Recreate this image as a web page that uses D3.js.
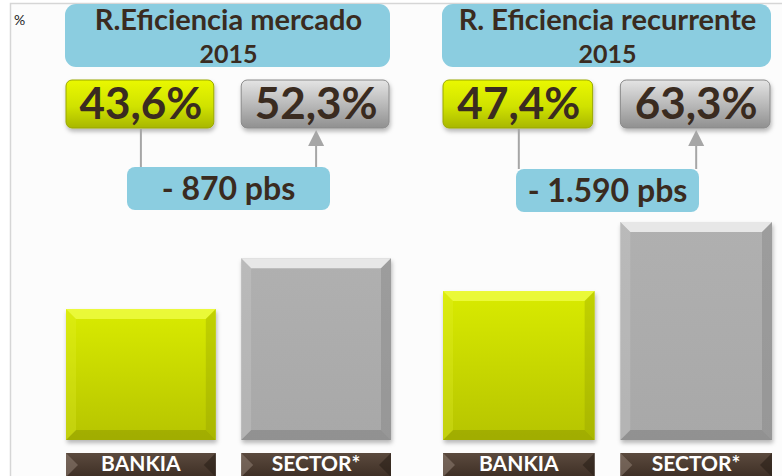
<!DOCTYPE html>
<html>
<head>
<meta charset="utf-8">
<script src="https://cdn.jsdelivr.net/npm/d3@7"></script>
<style>
  body { margin: 0; background: #ffffff; }
  svg { display: block; }
  text { font-family: Lato, "Open Sans", sans-serif; font-weight: bold; }
</style>
</head>
<body>
<div class="chart"></div>
<script>
// ------------------------------------------------------------------
// Data
var panelTitles = ["R.Eficiencia mercado", "R. Eficiencia recurrente"];
var panelYears  = ["2015", "2015"];
var categories  = ["BANKIA", "SECTOR*"];
var bankiaValues = [43.6, 47.4];
var sectorValues = [52.3, 63.3];
var valueLabels  = [["43,6%", "52,3%"], ["47,4%", "63,3%"]];
var diffLabels   = ["- 870 pbs", "- 1.590 pbs"];
var axisMin = [21.2, 13.1];   // each panel has its own (non zero) axis
var axisMax = [58.5, 63.3];

// ------------------------------------------------------------------
// Layout
var width = 782, height = 476;
var baseY = 440, topY = 222;
var panelRange = [[66, 391], [443, 772]];
var diffBoxW = [203, 183];
var diffBoxY = [167, 169];
var ink = "#3a2b20";

var svg = d3.select(".chart").append("svg")
  .attr("width", width)
  .attr("height", height);

var defs = svg.append("defs");

function vgrad(id, stops) {
  var g = defs.append("linearGradient").attr("id", id)
    .attr("x1", 0).attr("y1", 0).attr("x2", 0).attr("y2", 1);
  stops.forEach(function(s) {
    g.append("stop").attr("offset", s[0]).attr("stop-color", s[1]);
  });
}
vgrad("gYellow", [[0, "#d9eb00"], [1, "#b6c400"]]);
vgrad("gGray", [[0, "#b0b0b0"], [1, "#a8a8a8"]]);
vgrad("gYellowBox", [[0, "#eaf800"], [0.55, "#d0e200"], [1, "#a8b700"]]);
vgrad("gGrayBox", [[0, "#e4e4e4"], [0.55, "#b6b6b6"], [1, "#909090"]]);
vgrad("gBrown", [[0, "#5b4a3e"], [1, "#3e2f25"]]);

var shadow = defs.append("filter").attr("id", "shadow")
  .attr("x", "-10%").attr("y", "-10%").attr("width", "130%").attr("height", "140%");
shadow.append("feDropShadow").attr("dx", 1).attr("dy", 3)
  .attr("stdDeviation", 2).attr("flood-color", "#000").attr("flood-opacity", 0.28);

// ------------------------------------------------------------------
// Frame
svg.append("rect").attr("x", 10).attr("y", 4).attr("width", width - 10).attr("height", height - 4)
  .attr("fill", "#fcfcfc");
svg.append("path").attr("d", "M10.5," + height + "V3.5H" + width)
  .attr("fill", "none").attr("stroke", "#d6d6d6").attr("stroke-width", 1.5);
svg.append("text").attr("x", 14).attr("y", 25).attr("font-size", 14)
  .style("font-weight", "normal").attr("fill", "#222").text("%");

// ------------------------------------------------------------------
// Bevel bar
function bevelBar(g, x0, y0, w, h, face, light, dark, side1, side2, b) {
  g.append("rect").attr("x", x0).attr("y", y0).attr("width", w).attr("height", h)
    .attr("fill", face);
  var x1 = x0 + w, y1 = y0 + h;
  function poly(pts, fill, op) {
    g.append("polygon").attr("points", pts.map(function(p) { return p.join(","); }).join(" "))
      .attr("fill", fill).attr("opacity", op);
  }
  poly([[x0, y0], [x1, y0], [x1 - b, y0 + b], [x0 + b, y0 + b]], light, 0.7);
  poly([[x0, y1], [x1, y1], [x1 - b, y1 - b], [x0 + b, y1 - b]], dark, 0.3);
  poly([[x0, y0], [x0 + b, y0 + b], [x0 + b, y1 - b], [x0, y1]], side1, 0.25);
  poly([[x1, y0], [x1 - b, y0 + b], [x1 - b, y1 - b], [x1, y1]], side2, 0.3);
}

// ------------------------------------------------------------------
// Panels
panelTitles.forEach(function(title, p) {
  var x = d3.scaleBand().domain(categories).range(panelRange[p]).paddingInner(0.145);
  var y = d3.scaleLinear().domain([axisMin[p], axisMax[p]]).range([baseY, topY]);
  var vals = [bankiaValues[p], sectorValues[p]];
  var cx = (panelRange[p][0] + panelRange[p][1]) / 2;
  var g = svg.append("g");

  // title box
  g.append("rect").attr("x", panelRange[p][0] - 1).attr("y", 4)
    .attr("width", panelRange[p][1] - panelRange[p][0]).attr("height", 63)
    .attr("rx", 11).attr("fill", "#8bcde0");
  g.append("text").attr("x", cx).attr("y", 30).attr("text-anchor", "middle")
    .attr("font-size", 29).attr("fill", ink).text(title);
  g.append("text").attr("x", cx).attr("y", 63).attr("text-anchor", "middle")
    .attr("font-size", 25).attr("fill", ink).text(panelYears[p]);

  // bars
  categories.forEach(function(c, i) {
    var bx = x(c), bw = x.bandwidth(), by = y(vals[i]);
    var bg = g.append("g").attr("filter", "url(#shadow)");
    if (i == 0) {
      bevelBar(bg, bx, by, bw, baseY - by, "url(#gYellow)", "#f2ff50", "#6f7800", "#e8f540", "#8c9800", 10);
    } else {
      bevelBar(bg, bx, by, bw, baseY - by, "url(#gGray)", "#ffffff", "#5e5e5e", "#d8d8d8", "#707070", 10);
    }

    // category banner
    var lg = g.append("g");
    lg.append("rect").attr("x", bx).attr("y", 453).attr("width", bw).attr("height", 24)
      .attr("fill", "url(#gBrown)");
    lg.append("polygon").attr("points", [[bx, 453], [bx + 12, 465], [bx, 477]].join(" "))
      .attr("fill", "#8a7a6e").attr("opacity", 0.6);
    lg.append("polygon").attr("points", [[bx + bw, 453], [bx + bw - 12, 465], [bx + bw, 477]].join(" "))
      .attr("fill", "#2a1f18").attr("opacity", 0.6);
    lg.append("text").attr("x", bx + bw / 2).attr("y", 471).attr("text-anchor", "middle")
      .attr("font-size", 21).attr("fill", "#ffffff").text(c);

    // value box
    var vb = g.append("g");
    vb.append("rect").attr("x", bx).attr("y", 80).attr("width", bw - 2).attr("height", 48)
      .attr("rx", 6).attr("fill", i == 0 ? "url(#gYellowBox)" : "url(#gGrayBox)")
      .attr("stroke", i == 0 ? "#9aa800" : "#8a8a8a").attr("stroke-width", 1)
      .attr("filter", "url(#shadow)");
    vb.append("text").attr("x", bx + bw / 2).attr("y", 119).attr("text-anchor", "middle")
      .attr("font-size", 44).attr("fill", ink).text(valueLabels[p][i]);

    // connector
    var lx = bx + bw / 2;
    g.append("line").attr("x1", lx).attr("x2", lx)
      .attr("y1", i == 0 ? 129 : 145).attr("y2", diffBoxY[p])
      .attr("stroke", "#a6a6a6").attr("stroke-width", 2);
    if (i == 1) {
      g.append("polygon").attr("points", [[lx, 130], [lx - 8, 146], [lx + 8, 146]].join(" "))
        .attr("fill", "#a6a6a6");
    }
  });

  // difference box
  var dcx = (x(categories[0]) + x(categories[1]) + x.bandwidth()) / 2;
  g.append("rect").attr("x", dcx - diffBoxW[p] / 2).attr("y", diffBoxY[p])
    .attr("width", diffBoxW[p]).attr("height", 43).attr("rx", 8).attr("fill", "#8bcde0");
  g.append("text").attr("x", dcx).attr("y", diffBoxY[p] + 33).attr("text-anchor", "middle")
    .attr("font-size", 32).attr("fill", ink).text(diffLabels[p]);
});
</script>
</body>
</html>
